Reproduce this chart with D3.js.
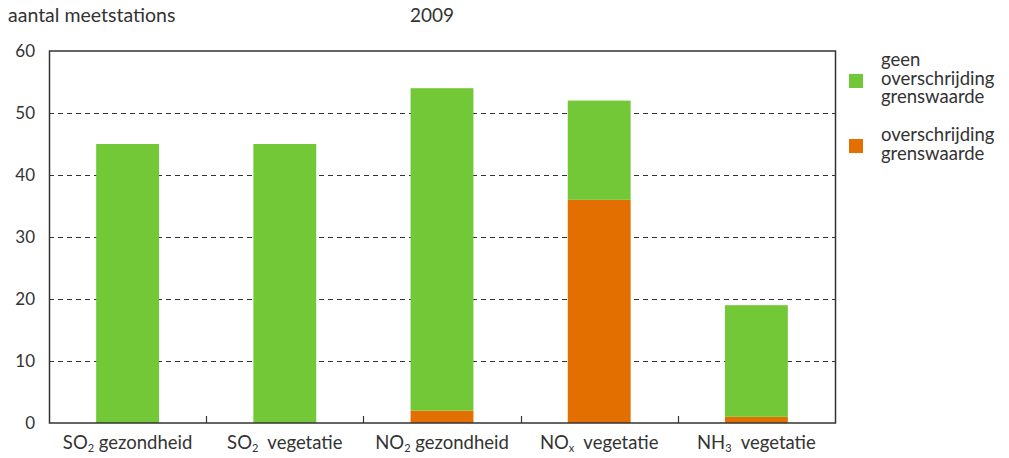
<!DOCTYPE html>
<html>
<head>
<meta charset="utf-8">
<script src="https://cdn.jsdelivr.net/npm/d3@7"></script>
<style>
  body { margin: 0; background: #fff; }
  text { font-family: Lato, sans-serif; fill: #333; }
</style>
</head>
<body>
<div id="chart"></div>
<script>
// categories: [main, subscript, rest]
const categories = [
    ['SO', '2', ' gezondheid'],
    ['SO', '2', '  vegetatie'],
    ['NO', '2', ' gezondheid'],
    ['NO', 'x', '  vegetatie'],
    ['NH', '3', '  vegetatie']
];
const geenOverschrijding = [45, 45, 52, 16, 18];
const overschrijding = [0, 0, 2, 36, 1];
const yTicks = [0, 10, 20, 30, 40, 50, 60];
const legendLabels = [['geen', 'overschrijding', 'grenswaarde'], ['overschrijding', 'grenswaarde']];

const width = 1009, height = 458;
const margin = { top: 51, right: 174, bottom: 35, left: 49 };
const green = '#72c837', orange = '#e36f00';
const fs = '18.5px';

const svg = d3.select('#chart').append('svg')
    .attr('width', width)
    .attr('height', height);

const x = d3.scaleBand()
    .domain(d3.range(categories.length))
    .range([margin.left, width - margin.right])
    .paddingInner(0.6)
    .paddingOuter(0.3);

const y = d3.scaleLinear()
    .domain([0, 60])
    .range([height - margin.bottom, margin.top]);

// stacked data
const stackData = categories.map((c, i) => ({ over: overschrijding[i], geen: geenOverschrijding[i] }));
const series = d3.stack().keys(['over', 'geen'])(stackData);
const colors = { over: orange, geen: green };

// dashed gridlines
svg.append('g')
    .selectAll('line')
    .data(yTicks.filter(t => t > 0 && t < 60))
    .enter().append('line')
    .attr('x1', margin.left)
    .attr('x2', width - margin.right)
    .attr('y1', d => Math.round(y(d)) + 0.5)
    .attr('y2', d => Math.round(y(d)) + 0.5)
    .attr('stroke', '#333')
    .attr('stroke-width', 1.2)
    .attr('stroke-dasharray', '5,4');

// bars
svg.append('g')
    .selectAll('g')
    .data(series)
    .enter().append('g')
    .attr('fill', d => colors[d.key])
    .selectAll('rect')
    .data(d => d)
    .enter().append('rect')
    .attr('x', (d, i) => x(i))
    .attr('width', x.bandwidth())
    .attr('y', d => y(d[1]))
    .attr('height', d => y(d[0]) - y(d[1]));

// frame
const frameL = margin.left + 0.5, frameR = width - margin.right + 0.5;
const frameT = y(60), frameB = y(0);
svg.append('path')
    .attr('d', `M${frameL},${frameB}V${frameT}H${frameR}V${frameB}Z`)
    .attr('fill', 'none')
    .attr('stroke', '#333')
    .attr('stroke-width', 1.5);

// category separator ticks
const step = x.step();
svg.append('g')
    .selectAll('line')
    .data(d3.range(1, categories.length))
    .enter().append('line')
    .attr('x1', i => Math.round(margin.left + i * step) + 0.5)
    .attr('x2', i => Math.round(margin.left + i * step) + 0.5)
    .attr('y1', frameB)
    .attr('y2', frameB - 7)
    .attr('stroke', '#333')
    .attr('stroke-width', 1.2);

// y tick labels
svg.append('g')
    .selectAll('text')
    .data(yTicks)
    .enter().append('text')
    .attr('x', 35)
    .attr('y', d => y(d) + 6)
    .attr('text-anchor', 'end')
    .style('font-size', '17px')
    .text(d => d);

// x labels with subscripts
const xl = svg.append('g')
    .selectAll('text')
    .data(categories)
    .enter().append('text')
    .attr('x', (d, i) => x(i) + x.bandwidth() / 2)
    .attr('y', 449)
    .attr('text-anchor', 'middle')
    .style('font-size', fs)
    .style('white-space', 'pre');
xl.append('tspan').text(d => d[0]);
xl.append('tspan').attr('dy', 3).style('font-size', '11px').text(d => d[1]);
xl.append('tspan').attr('dy', -3).text(d => d[2]);

// titles
svg.append('text')
    .attr('x', 8).attr('y', 22)
    .style('font-size', '19.5px')
    .text('aantal meetstations');
svg.append('text')
    .attr('x', 432).attr('y', 22)
    .attr('text-anchor', 'middle')
    .style('font-size', '19px')
    .text('2009');

// legend (each entry one text with stacked lines)
const legendY = [66, 141];
const legendSq = [74, 139];
const legendColors = [green, orange];
legendLabels.forEach((lines, k) => {
    svg.append('rect')
        .attr('x', 849).attr('y', legendSq[k])
        .attr('width', 14).attr('height', 14)
        .attr('fill', legendColors[k]);
    svg.append('text')
        .attr('y', legendY[k])
        .style('font-size', fs)
        .selectAll('tspan')
        .data(lines)
        .enter().append('tspan')
        .attr('x', 881)
        .attr('dy', (d, i) => i === 0 ? 0 : 18.5)
        .text(d => d);
});
</script>
</body>
</html>
